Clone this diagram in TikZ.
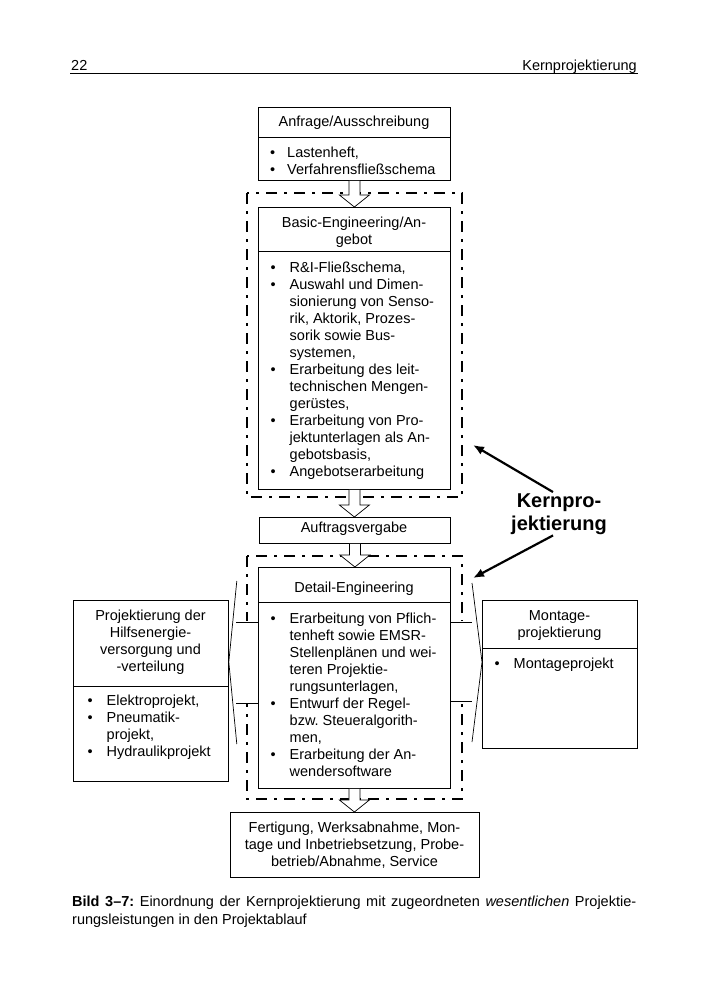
\documentclass[tikz,border=0pt]{standalone}
\usepackage{fontspec}
\setmainfont{Liberation Sans}
\usepackage{tikz}
\usetikzlibrary{calc}
\usetikzlibrary{arrows.meta}
\frenchspacing

\newcommand{\itm}[1][19pt]{\makebox[#1][l]{\textbullet}}
\newcommand{\cnt}[1][19pt]{\hspace*{#1}}

\begin{document}
\begin{tikzpicture}[x=1pt, y=-1pt,
    txt/.style={font=\fontsize{14.5pt}{17pt}\selectfont, inner sep=0pt},
    box/.style={draw, line width=0.8pt, inner sep=0pt, anchor=north west},
    frame/.style={line width=2.6pt, dash pattern=on 11pt off 7pt on 3pt off 7pt},
    hollow/.style={draw, fill=white, line width=0.7pt},
    kernarrow/.style={line width=2.2pt, -{Latex[length=11pt, width=9pt]}}]
    \useasboundingbox (0,0) rectangle (708,1000);
    \node[txt, anchor=base west] (pagenum) at (71,71) {22};
    \node[txt, anchor=base east] (pagetitle) at (637,71) {Kernprojektierung};
    \draw[line width=1pt] (70,74)--(638,74);
    \draw[frame] (247,193) rectangle (462,497);
    \draw[frame] (247,556) rectangle (462,799);
    \node[box, minimum width=192pt, minimum height=30pt] (anfrage) at (258,107) {};
    \node[box, minimum width=192pt, minimum height=43pt] (anfrageList) at (258,137) {};
    \node[box, minimum width=192pt, minimum height=44pt] (basic) at (258,207) {};
    \node[box, minimum width=192pt, minimum height=238pt] (basicList) at (258,251) {};
    \node[box, minimum width=191pt, minimum height=26pt] (auftrag) at (259,517) {};
    \node[box, minimum width=192pt, minimum height=35pt] (detail) at (258,567) {};
    \node[box, minimum width=192pt, minimum height=186pt] (detailList) at (258,602) {};
    \node[box, minimum width=249pt, minimum height=65pt] (fertigung) at (230,812) {};
    \node[box, minimum width=155pt, minimum height=86pt] (hilfs) at (73,600) {};
    \node[box, minimum width=155pt, minimum height=95pt] (hilfsList) at (73,686) {};
    \node[box, minimum width=155pt, minimum height=48pt] (montage) at (482,600) {};
    \node[box, minimum width=155pt, minimum height=100pt] (montageList) at (482,648) {};
    \foreach \a/\b in {anfrageList/basic, basicList/auftrag, auftrag/detail, detailList/fertigung}
        \draw[hollow] let \p1=(\a.south), \p2=(\b.north) in
            (\x1-5.5pt,\y1)--(\x1-5.5pt,\y2+12pt)--(\x1-15pt,\y2+12pt)--(\x1,\y2)
            --(\x1+15pt,\y2+12pt)--(\x1+5.5pt,\y2+12pt)--(\x1+5.5pt,\y1);
    \coordinate (leftTip) at ($(hilfs.north east)+(0,62)$);
    \coordinate (rightTip) at ($(montage.north west)+(0,62)$);
    \fill[white] (235,621) rectangle (257,704);
    \draw[line width=0.7pt] ($(detailList.north west)+(0,20)$)--++(-22,0);
    \draw[line width=0.7pt] ($(detailList.north west)+(0,101)$)--++(-22,0);
    \draw[line width=0.7pt] ($(leftTip)+(8,-81)$)--(leftTip)--($(leftTip)+(8,82)$);
    \fill[white] (452,621) rectangle (472,702);
    \draw[line width=0.7pt] ($(detailList.north east)+(0,20)$)--++(21,0);
    \draw[line width=0.7pt] ($(detailList.north east)+(0,99)$)--++(21,0);
    \draw[line width=0.7pt] ($(rightTip)+(-10,-79)$)--(rightTip)--($(rightTip)+(-10,80)$);
    \node[txt, anchor=base] (anfrageText) at (354,127) {Anfrage/Ausschreibung};
    \node[txt, anchor=base west, align=left] (anfrageItems) at (270,175)
        {\itm[17pt]Lastenheft,\\\itm[17pt]Verfahrensfließschema};
    \node[txt, anchor=base, align=center] (basicText) at (354,244) {Basic-Engineering/An-\\gebot};
    \node[txt, anchor=base west, align=left] (basicItems) at (270.5,476)
        {\itm R\&I-Fließschema,\\
         \itm Auswahl und Dimen-\\
         \cnt sionierung von Senso-\\
         \cnt rik, Aktorik, Prozes-\\
         \cnt sorik sowie Bus-\\
         \cnt systemen,\\
         \itm Erarbeitung des leit-\\
         \cnt technischen Mengen-\\
         \cnt gerüstes,\\
         \itm Erarbeitung von Pro-\\
         \cnt jektunterlagen als An-\\
         \cnt gebotsbasis,\\
         \itm Angebotserarbeitung};
    \node[txt, anchor=base] (auftragText) at (354,532) {Auftragsvergabe};
    \node[txt, anchor=base] (detailText) at (354,592) {Detail-Engineering};
    \node[txt, anchor=base west, align=left] (detailItems) at (270.5,776)
        {\itm Erarbeitung von Pflich-\\
         \cnt tenheft sowie EMSR-\\
         \cnt Stellenplänen und wei-\\
         \cnt teren Projektie-\\
         \cnt rungsunterlagen,\\
         \itm Entwurf der Regel-\\
         \cnt bzw. Steueralgorith-\\
         \cnt men,\\
         \itm Erarbeitung der An-\\
         \cnt wendersoftware};
    \node[txt, anchor=base, align=center] (fertigungText) at (354.5,866)
        {Fertigung, Werksabnahme, Mon-\\tage und Inbetriebsetzung, Probe-\\betrieb/Abnahme, Service};
    \node[txt, anchor=base, align=center] (hilfsText) at (150.5,671)
        {Projektierung der\\Hilfsenergie-\\versorgung und\\-verteilung};
    \node[txt, anchor=base west, align=left] (hilfsItems) at (87.5,756)
        {\itm Elektroprojekt,\\\itm Pneumatik-\\\cnt projekt,\\\itm Hydraulikprojekt};
    \node[txt, anchor=base, align=center] (montageText) at (559.5,637) {Montage-\\projektierung};
    \node[txt, anchor=base west, align=left] (montageItems) at (494.5,668) {\itm Montageprojekt};
    \node[txt, font=\bfseries\fontsize{20pt}{23pt}\selectfont, anchor=base, align=center, inner sep=1pt] (kern)
        at (559,530) {Kernpro-\\jektierung};
    \coordinate (kernTipA) at (473,445);
    \coordinate (kernTipB) at (473,578);
    \draw[kernarrow] ($(kern.north)+(-6,0)$)--(kernTipA);
    \draw[kernarrow] ($(kern.south)+(-6,0)$)--(kernTipB);
    \node[txt, font=\fontsize{14.5pt}{18pt}\selectfont, anchor=base west, align=left] (caption) at (72,924)
        {\makebox[564pt][s]{\textbf{Bild 3–7:} Einordnung der Kernprojektierung mit zugeordneten \textit{wesentlichen} Projektie-}\\
         rungsleistungen in den Projektablauf};
\end{tikzpicture}
\end{document}
